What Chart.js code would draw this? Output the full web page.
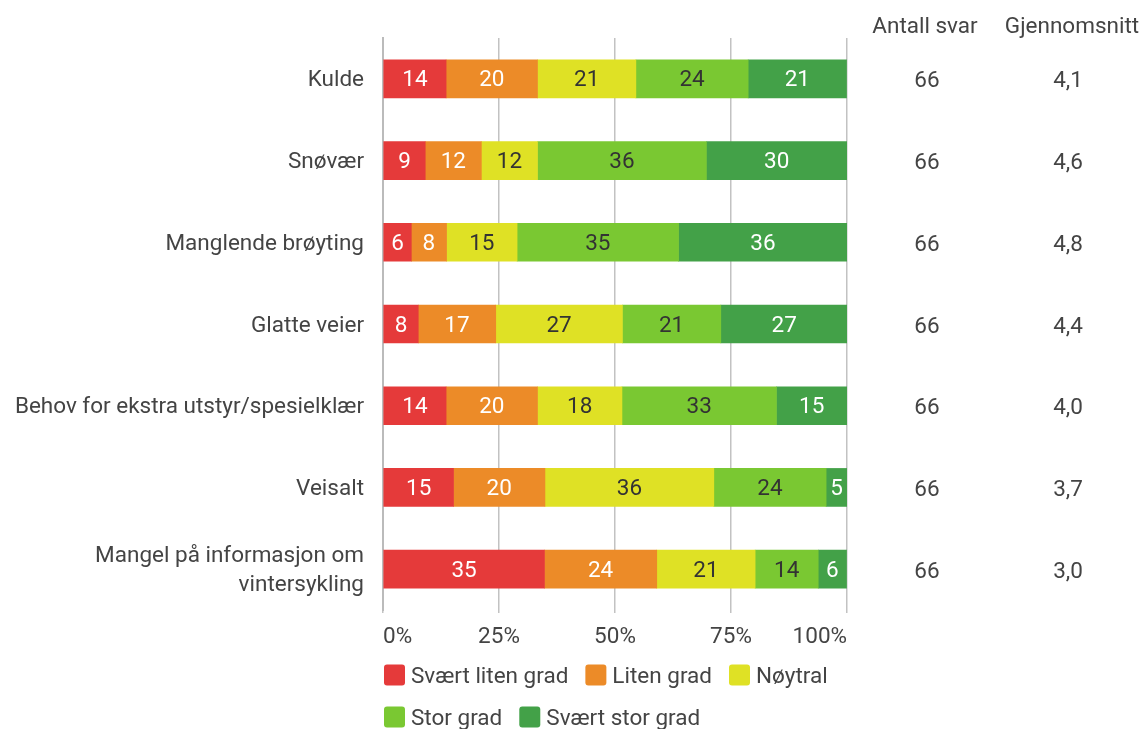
<!DOCTYPE html>
<html>
<head>
<meta charset="utf-8">
<script src="https://cdn.jsdelivr.net/npm/chart.js@4"></script>
<style>
  html, body { margin: 0; padding: 0; background: #fff; }
</style>
</head>
<body>
<canvas id="chart" width="1141" height="729"></canvas>
<script>
const categories = ['Kulde', 'Snøvær', 'Manglende brøyting', 'Glatte veier', 'Behov for ekstra utstyr/spesielklær', 'Veisalt', ['Mangel på informasjon om', 'vintersykling']];
const seriesNames = ['Svært liten grad', 'Liten grad', 'Nøytral', 'Stor grad', 'Svært stor grad'];
const colors = ['#e53a3a', '#ec8b28', '#dfe125', '#7ac832', '#43a148'];
const labelColors = ['#ffffff', '#ffffff', '#333333', '#333333', '#ffffff'];

// share of answers in percent (labels show them rounded)
const veryLow = [13.6, 9.1, 6.1, 7.6, 13.6, 15.2, 34.8];
const low = [19.7, 12.1, 7.6, 16.7, 19.7, 19.7, 24.2];
const neutral = [21.2, 12.1, 15.2, 27.3, 18.2, 36.4, 21.2];
const high = [24.2, 36.4, 34.8, 21.2, 33.3, 24.2, 13.6];
const veryHigh = [21.2, 30.3, 36.4, 27.3, 15.2, 4.5, 6.1];

const answers = [66, 66, 66, 66, 66, 66, 66];
const averages = ['4,1', '4,6', '4,8', '4,4', '4,0', '3,7', '3,0'];
const xTicks = [0, 25, 50, 75, 100];

const textColor = '#444444';
const font = 'Roboto, "Noto Sans", sans-serif';
const fontSize = 22.5;

// segment values, right-hand columns and the legend
const extras = {
    id: 'extras',
    afterDatasetsDraw(chart) {
        const ctx = chart.ctx;
        const area = chart.chartArea;
        const yScale = chart.scales.y;
        ctx.save();
        ctx.font = fontSize + 'px ' + font;
        ctx.textAlign = 'center';
        ctx.textBaseline = 'middle';

        chart.data.datasets.forEach(function (ds, i) {
            chart.getDatasetMeta(i).data.forEach(function (bar, j) {
                ctx.fillStyle = labelColors[i];
                ctx.fillText(Math.round(ds.data[j]), (bar.x + bar.base) / 2, bar.y + 2);
            });
        });

        // Antall svar / Gjennomsnitt
        ctx.fillStyle = textColor;
        ctx.fillText('Antall svar', 925, 27);
        ctx.fillText('Gjennomsnitt', 1072, 27);
        categories.forEach(function (c, j) {
            const y = yScale.getPixelForValue(j) + 3;
            ctx.fillText(answers[j], 927, y);
            ctx.fillText(averages[j], 1068, y);
        });

        // legend, wrapped to the width of the plot
        ctx.textAlign = 'left';
        let x = area.left + 1;
        let y = area.bottom + 65;
        seriesNames.forEach(function (name, i) {
            const w = 21 + 6 + ctx.measureText(name).width;
            if (x + w > area.right && x > area.left + 1) {
                x = area.left + 1;
                y += 42;
            }
            ctx.fillStyle = colors[i];
            ctx.beginPath();
            ctx.roundRect(x, y - 10.5, 21, 21, 3);
            ctx.fill();
            ctx.fillStyle = textColor;
            ctx.fillText(name, x + 27, y + 2);
            x += w + 17;
        });
        ctx.restore();
    }
};

const series = [veryLow, low, neutral, high, veryHigh];

new Chart(document.getElementById('chart'), {
    type: 'bar',
    data: {
        labels: categories,
        datasets: series.map(function (values, i) {
            return {
                label: seriesNames[i],
                data: values,
                backgroundColor: colors[i],
                borderWidth: 0,
                barThickness: 38
            };
        })
    },
    options: {
        indexAxis: 'y',
        responsive: false,
        animation: false,
        layout: { padding: { top: 38, right: 294, bottom: 79, left: 0 } },
        plugins: {
            legend: { display: false },
            tooltip: { enabled: false }
        },
        scales: {
            x: {
                stacked: true,
                min: 0,
                max: 100,
                afterBuildTicks: function (scale) {
                    scale.ticks = xTicks.map(function (v) { return { value: v }; });
                },
                afterFit: function (scale) {
                    scale.height = 40;
                    scale.paddingLeft = 0;
                    scale.paddingRight = 0;
                },
                ticks: {
                    callback: function (v) { return v + '%'; },
                    color: textColor,
                    font: { family: font, size: fontSize },
                    padding: 11,
                    align: 'inner',
                    maxRotation: 0
                },
                grid: { color: '#c2c2c2', lineWidth: 1.5, tickLength: 3 },
                border: { display: false }
            },
            y: {
                stacked: true,
                afterFit: function (scale) {
                    scale.width = 383;
                    scale.paddingTop = 0;
                    scale.paddingBottom = 0;
                },
                ticks: {
                    color: textColor,
                    font: { family: font, size: fontSize, lineHeight: 1.3 },
                    padding: 19,
                    labelOffset: 2
                },
                grid: { display: false, drawTicks: false },
                border: { display: true, color: '#bbbbbb', width: 2 }
            }
        }
    },
    plugins: [extras]
});
</script>
</body>
</html>
